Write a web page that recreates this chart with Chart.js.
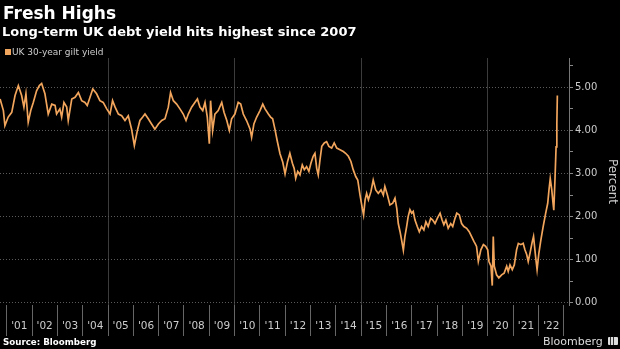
<!DOCTYPE html>
<html>
<head>
<meta charset="utf-8">
<script src="https://cdn.jsdelivr.net/npm/chart.js@4.4.0/dist/chart.umd.min.js"></script>
<style>
  html, body { margin: 0; padding: 0; background: #000; }
  body { width: 620px; height: 349px; position: relative; overflow: hidden; font-family: "DejaVu Sans", sans-serif; color: #fff; }
  #chart { position: absolute; left: 0; top: 0; }
  .txt { position: absolute; white-space: nowrap; }
  #title { left: 3px; top: 2.5px; font-size: 17px; font-weight: bold; }
  #subtitle { left: 2px; top: 23.9px; font-size: 13px; font-weight: bold; }
  #swatch { position: absolute; left: 5px; top: 49px; width: 6px; height: 6px; background: #f2a55c; }
  #legend { left: 12px; top: 46.6px; font-size: 9px; color: #ccc; }
  #source { left: 3px; top: 337px; font-size: 8.7px; font-weight: bold; }
  #brand { left: 543px; top: 334.8px; font-size: 11px; color: #ddd; }
  #logo { position: absolute; left: 608px; top: 337px; width: 10px; height: 8px; border-radius: 1px;
          background: linear-gradient(90deg, #ddd 0 2px, #333 2px 3px, #ddd 3px 5px, #333 5px 6px, #ddd 6px 10px); }
</style>
</head>
<body>
<canvas id="chart" width="620" height="349"></canvas>
<div class="txt" id="title">Fresh Highs</div>
<div class="txt" id="subtitle">Long-term UK debt yield hits highest since 2007</div>
<span id="swatch"></span>
<div class="txt" id="legend">UK 30-year gilt yield</div>
<div class="txt" id="source">Source: Bloomberg</div>
<div class="txt" id="brand">Bloomberg</div>
<span id="logo"></span>
<script>
// UK 30-year gilt yield, percent, dates as decimal years
const dates = [
  2000.74, 2000.87, 2000.93, 2001.06, 2001.20, 2001.33, 2001.46, 2001.59, 2001.68, 2001.76, 2001.85, 2001.95,
  2002.05, 2002.18, 2002.29, 2002.38, 2002.51, 2002.64, 2002.78, 2002.91, 2002.97,
  2003.10, 2003.17, 2003.26, 2003.37, 2003.43, 2003.57, 2003.70, 2003.83, 2003.96,
  2004.09, 2004.18, 2004.29, 2004.40, 2004.55, 2004.68, 2004.81, 2004.95,
  2005.08, 2005.18, 2005.28, 2005.41, 2005.54, 2005.67, 2005.80, 2005.93,
  2006.04, 2006.16, 2006.26, 2006.37, 2006.46, 2006.59, 2006.72, 2006.85, 2006.99,
  2007.12, 2007.25, 2007.38, 2007.47, 2007.58, 2007.71, 2007.84, 2007.97,
  2008.08, 2008.17, 2008.30, 2008.43, 2008.53, 2008.63, 2008.74, 2008.83, 2008.92,
  2009.00, 2009.05, 2009.13, 2009.22, 2009.35, 2009.49, 2009.58, 2009.69, 2009.79, 2009.88,
  2010.01, 2010.14, 2010.24, 2010.34, 2010.47, 2010.61, 2010.67, 2010.76, 2010.87,
  2011.00, 2011.11, 2011.20, 2011.33, 2011.42, 2011.50, 2011.59, 2011.68, 2011.79, 2011.90, 2011.99,
  2012.09, 2012.18, 2012.28, 2012.35, 2012.41, 2012.49, 2012.58, 2012.67, 2012.75, 2012.84, 2012.93,
  2013.01, 2013.10, 2013.17, 2013.24, 2013.30, 2013.37, 2013.44, 2013.54, 2013.63, 2013.72, 2013.83, 2013.93,
  2014.03, 2014.16, 2014.29, 2014.38, 2014.49, 2014.59, 2014.68, 2014.78, 2014.86, 2014.95,
  2015.04, 2015.09, 2015.15, 2015.21, 2015.28, 2015.38, 2015.47, 2015.57, 2015.67, 2015.78, 2015.87, 2015.93,
  2016.03, 2016.13, 2016.24, 2016.33, 2016.40, 2016.46, 2016.53, 2016.59, 2016.66, 2016.72, 2016.79, 2016.85, 2016.92, 2016.99,
  2017.05, 2017.12, 2017.21, 2017.29, 2017.38, 2017.47, 2017.55, 2017.64, 2017.74, 2017.82, 2017.91,
  2018.00, 2018.11, 2018.19, 2018.26, 2018.34, 2018.43, 2018.53, 2018.61, 2018.70, 2018.77, 2018.87, 2018.96,
  2019.05, 2019.16, 2019.26, 2019.36, 2019.45, 2019.49, 2019.55, 2019.62, 2019.72, 2019.82, 2019.91, 2019.99,
  2020.04, 2020.12, 2020.17, 2020.21, 2020.25, 2020.34, 2020.43, 2020.54, 2020.64, 2020.74, 2020.80, 2020.87, 2020.96,
  2021.04, 2021.13, 2021.20, 2021.30, 2021.39, 2021.46, 2021.53, 2021.59, 2021.66, 2021.75, 2021.80, 2021.88, 2021.94,
  2022.01, 2022.09, 2022.18, 2022.28, 2022.36, 2022.41, 2022.46, 2022.52, 2022.57, 2022.60, 2022.65, 2022.69, 2022.72, 2022.74
];
const yields = [
  4.73, 4.46, 4.11, 4.31, 4.42, 4.81, 5.04, 4.81, 4.54, 4.85, 4.19, 4.46,
  4.65, 4.92, 5.04, 5.09, 4.85, 4.38, 4.61, 4.58, 4.38,
  4.50, 4.31, 4.65, 4.54, 4.23, 4.73, 4.77, 4.88, 4.69,
  4.65, 4.58, 4.77, 4.96, 4.85, 4.69, 4.65, 4.50,
  4.38, 4.69, 4.54, 4.38, 4.34, 4.23, 4.34, 4.03,
  3.65, 4.00, 4.23, 4.31, 4.38, 4.27, 4.15, 4.03, 4.15,
  4.23, 4.27, 4.54, 4.88, 4.69, 4.61, 4.50, 4.38,
  4.23, 4.38, 4.54, 4.65, 4.73, 4.54, 4.46, 4.65, 4.31,
  3.69, 4.69, 4.00, 4.38, 4.46, 4.65, 4.42, 4.23, 4.00, 4.27,
  4.38, 4.65, 4.61, 4.38, 4.23, 4.03, 3.84, 4.15, 4.31,
  4.46, 4.61, 4.50, 4.38, 4.31, 4.27, 4.03, 3.76, 3.46, 3.26, 2.99,
  3.28, 3.47, 3.24, 3.12, 2.89, 3.05, 2.97, 3.20, 3.09, 3.16, 3.05,
  3.24, 3.40, 3.47, 3.12, 2.97, 3.32, 3.63, 3.71, 3.74, 3.63, 3.59, 3.71,
  3.59, 3.55, 3.51, 3.47, 3.40, 3.28, 3.09, 2.93, 2.85, 2.50,
  2.19, 2.04, 2.39, 2.54, 2.39, 2.58, 2.85, 2.62, 2.54, 2.62, 2.50, 2.70,
  2.50, 2.27, 2.31, 2.43, 2.19, 1.84, 1.65, 1.46, 1.22, 1.53, 1.77, 2.00, 2.16, 2.08,
  2.12, 1.92, 1.77, 1.65, 1.77, 1.69, 1.88, 1.77, 1.96, 1.92, 1.84,
  1.96, 2.08, 1.92, 1.81, 1.92, 1.73, 1.84, 1.77, 1.96, 2.08, 2.04, 1.84,
  1.77, 1.73, 1.65, 1.53, 1.42, 1.38, 1.31, 0.96, 1.23, 1.35, 1.31, 1.23,
  0.96, 0.85, 0.40, 1.54, 0.85, 0.65, 0.58, 0.65, 0.69, 0.85, 0.73, 0.88, 0.77,
  0.88, 1.23, 1.38, 1.35, 1.38, 1.23, 1.12, 0.96, 1.15, 1.42, 1.54, 1.08, 0.77,
  1.15, 1.46, 1.77, 2.08, 2.31, 2.62, 2.88, 2.62, 2.31, 2.15, 2.92, 3.62, 4.15, 4.81
];

const firstYear = 2001;
const yearLabels = ["'01", "'02", "'03", "'04", "'05", "'06", "'07", "'08", "'09", "'10", "'11",
                    "'12", "'13", "'14", "'15", "'16", "'17", "'18", "'19", "'20", "'21", "'22"];
const gridYears = [2005, 2010, 2015, 2020];
const yTicks = [0, 0.5, 1, 1.5, 2, 2.5, 3, 3.5, 4, 4.5, 5, 5.5];

const lineColor = '#f2a55c';

// year boundaries carry the separator marks, mid-years carry the labels
const xTicks = [];
yearLabels.forEach((_, i) => {
  xTicks.push(firstYear + i);
  xTicks.push(firstYear + i + 0.5);
});
xTicks.push(firstYear + yearLabels.length);

const ctx = document.getElementById('chart').getContext('2d');
new Chart(ctx, {
  type: 'line',
  data: {
    datasets: [{
      label: 'UK 30-year gilt yield',
      data: dates.map((d, i) => ({ x: d, y: yields[i] })),
      borderColor: lineColor,
      borderWidth: 1.7,
      pointRadius: 0,
      tension: 0
    }]
  },
  options: {
    responsive: false,
    animation: false,
    layout: { padding: { top: 58, left: 0, right: 0, bottom: 0 } },
    plugins: {
      legend: { display: false },
      tooltip: { enabled: false }
    },
    scales: {
      x: {
        type: 'linear',
        min: 2000.736,
        max: 2023.2,
        afterBuildTicks: axis => { axis.ticks = xTicks.map(v => ({ value: v })); },
        afterFit: axis => { axis.height = 44; },
        ticks: {
          autoSkip: false,
          maxRotation: 0,
          padding: -16,
          color: '#ccc',
          font: { family: 'DejaVu Sans', size: 10.5 },
          callback: v => {
            const i = v - firstYear - 0.5;
            return Number.isInteger(i) ? yearLabels[i] : '';
          }
        },
        grid: {
          color: c => (c.tick && gridYears.includes(c.tick.value)) ? '#3c3c3c' : 'rgba(0,0,0,0)',
          tickColor: c => (c.tick && Number.isInteger(c.tick.value)) ? '#666' : 'rgba(0,0,0,0)',
          tickLength: 31
        },
        border: { display: false }
      },
      y: {
        position: 'right',
        min: -0.05,
        max: 5.68,
        afterBuildTicks: axis => { axis.ticks = yTicks.map(v => ({ value: v })); },
        afterFit: axis => { axis.width = 51; },
        ticks: {
          padding: 2,
          color: '#ccc',
          font: { family: 'DejaVu Sans', size: 10 },
          callback: v => Number.isInteger(v) ? v.toFixed(2) : ''
        },
        grid: {
          color: c => (c.tick && Number.isInteger(c.tick.value)) ? '#5a5a5a' : 'rgba(0,0,0,0)',
          tickColor: '#888',
          tickLength: 4
        },
        border: { display: true, color: '#777', dash: [1, 2] },
        title: {
          display: true,
          text: 'Percent',
          color: '#ccc',
          font: { family: 'DejaVu Sans', size: 12 },
          padding: { top: 1, bottom: 0 }
        }
      }
    }
  }
});
</script>
</body>
</html>
